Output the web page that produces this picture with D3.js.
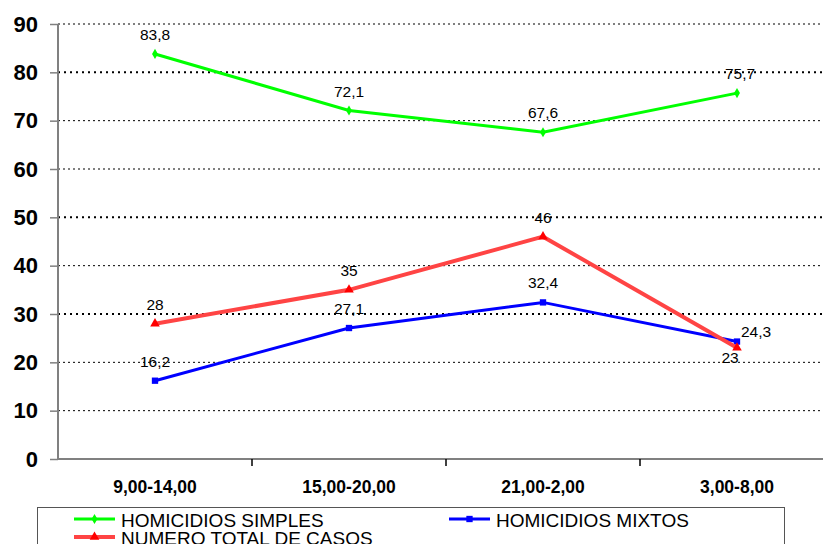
<!DOCTYPE html>
<html>
<head>
<meta charset="utf-8">
<script src="https://cdn.jsdelivr.net/npm/d3@7"></script>
<style>
  body { margin: 0; background: #fff; }
  text { font-family: Arial, "Liberation Sans", sans-serif; }
</style>
</head>
<body>
<div id="chart-area"></div>
<script>
var categories = ["9,00-14,00", "15,00-20,00", "21,00-2,00", "3,00-8,00"];
var simples = [83.8, 72.1, 67.6, 75.7];
var mixtos = [16.2, 27.1, 32.4, 24.3];
var total = [28, 35, 46, 23];
var yTicks = [0, 10, 20, 30, 40, 50, 60, 70, 80, 90];
var boldGrid = [80, 50, 30];

var margin = { left: 58, right: -11, top: 24, bottom: 85 },
    width = 823 - margin.left - margin.right,
    height = 544 - margin.top - margin.bottom;

var svg = d3.select("#chart-area")
    .append("svg")
    .attr("width", 823)
    .attr("height", 544);
var g = svg.append("g")
    .attr("transform", "translate(" + margin.left + "," + margin.top + ")");

var x = d3.scaleBand().domain(categories).range([0, width]);
var y = d3.scaleLinear().domain([0, 90]).range([height, 0]);
var fmt = function(v) { return String(v).replace(".", ","); };

// gridlines
g.selectAll(".grid")
    .data(yTicks.filter(function(d) { return d > 0; }))
    .enter().append("line")
    .attr("x1", 0).attr("x2", width)
    .attr("y1", function(d) { return y(d); })
    .attr("y2", function(d) { return y(d); })
    .attr("stroke", "#000")
    .attr("stroke-width", function(d) { return boldGrid.indexOf(d) >= 0 ? 2 : 1; })
    .attr("stroke-dasharray", function(d) { return boldGrid.indexOf(d) >= 0 ? "2,4" : "2,3"; });

// y axis
var yAxis = g.append("g")
    .call(d3.axisLeft(y).tickValues(yTicks).tickSize(8).tickPadding(12));
yAxis.select(".domain").attr("stroke", "#808080").attr("stroke-width", 2).attr("d", "M0," + height + "V0");
yAxis.selectAll(".tick line").attr("stroke", "#808080").attr("stroke-width", 1.5);
yAxis.selectAll(".tick text")
    .attr("font-size", "22px").attr("font-weight", "bold").attr("fill", "#000")
    .attr("font-family", "Arial, 'Liberation Sans', sans-serif");

// x axis
var xAxis = g.append("g")
    .attr("transform", "translate(0," + height + ")")
    .call(d3.axisBottom(x).tickSize(0).tickPadding(22));
xAxis.select(".domain").attr("stroke", "#808080").attr("stroke-width", 2).attr("d", "M0,0H" + width);
xAxis.selectAll(".tick text")
    .attr("font-size", "17.5px").attr("font-weight", "bold").attr("fill", "#000")
    .attr("font-family", "Arial, 'Liberation Sans', sans-serif");
xAxis.selectAll(".sep")
    .data(categories.slice(1))
    .enter().append("line")
    .attr("x1", function(d) { return x(d); })
    .attr("x2", function(d) { return x(d); })
    .attr("y1", 0).attr("y2", 7)
    .attr("stroke", "#000").attr("stroke-width", 1.5);

var cx = function(i) { return x(categories[i]) + x.bandwidth() / 2; };
var line = d3.line()
    .x(function(d, i) { return cx(i); })
    .y(function(d) { return y(d); });

var series = [
  { name: "HOMICIDIOS SIMPLES", values: simples, color: "#00ff00", width: 3, marker: d3.symbolDiamond, msize: 30 },
  { name: "HOMICIDIOS MIXTOS", values: mixtos, color: "#0000ff", width: 3, marker: d3.symbolSquare, msize: 40 },
  { name: "NUMERO TOTAL DE CASOS", values: total, color: "#ff4444", width: 4, marker: d3.symbolTriangle, msize: 40, mcolor: "#ff0000" }
];

series.forEach(function(s) {
  g.append("path")
      .attr("d", line(s.values))
      .attr("fill", "none")
      .attr("stroke", s.color)
      .attr("stroke-width", s.width);
  g.selectAll(null)
      .data(s.values)
      .enter().append("path")
      .attr("transform", function(d, i) { return "translate(" + cx(i) + "," + y(d) + ")"; })
      .attr("d", d3.symbol().type(s.marker).size(s.msize))
      .attr("fill", s.mcolor || s.color);
});

// data labels: [series, index, dx, dy]
var labelPos = [
  [simples, 0, 0, -14], [simples, 1, 0, -14], [simples, 2, 0, -14], [simples, 3, 3, -14],
  [total, 0, 0, -14], [total, 1, 0, -14], [total, 2, 0, -14], [total, 3, -7, 15],
  [mixtos, 0, 0, -14], [mixtos, 1, 0, -14], [mixtos, 2, 0, -14], [mixtos, 3, 19, -5]
];
labelPos.forEach(function(p) {
  var v = p[0][p[1]];
  g.append("text")
      .attr("x", cx(p[1]) + p[2])
      .attr("y", y(v) + p[3])
      .attr("text-anchor", "middle")
      .attr("font-size", "15.5px")
      .attr("fill", "#000")
      .text(fmt(v));
});

// legend
var legend = svg.append("g");
legend.append("rect")
    .attr("x", 37.5).attr("y", 507.5)
    .attr("width", 747).attr("height", 60)
    .attr("fill", "#fff").attr("stroke", "#555").attr("stroke-width", 1);
var legPos = [[74, 519], [449, 519], [74, 537]];
series.forEach(function(s, i) {
  var lg = legend.append("g").attr("transform", "translate(" + legPos[i][0] + "," + legPos[i][1] + ")");
  lg.append("line").attr("x1", 0).attr("x2", 41).attr("y1", 0).attr("y2", 0)
      .attr("stroke", s.color).attr("stroke-width", s.width);
  lg.append("path").attr("transform", "translate(20.5,0)")
      .attr("d", d3.symbol().type(s.marker).size(s.msize))
      .attr("fill", s.mcolor || s.color);
  lg.append("text").attr("x", 47).attr("y", 8)
      .attr("font-size", "19px").attr("fill", "#000")
      .text(s.name);
});
</script>
</body>
</html>
